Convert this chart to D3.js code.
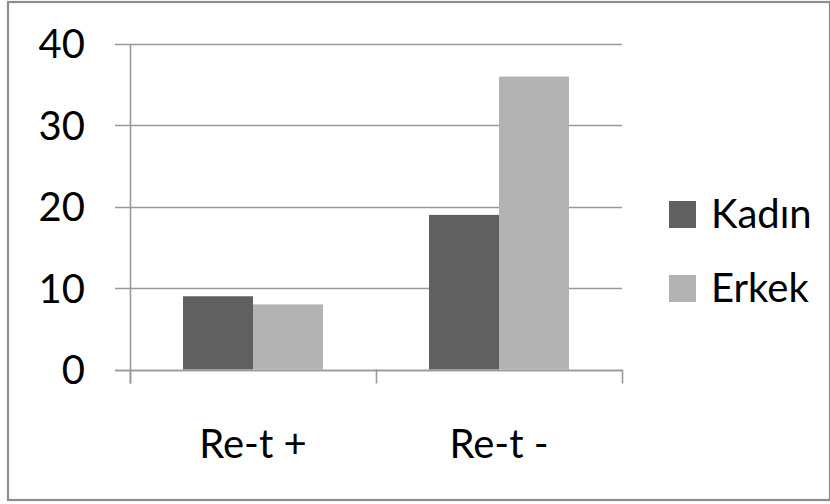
<!DOCTYPE html>
<html>
<head>
<meta charset="utf-8">
<script src="https://cdn.jsdelivr.net/npm/d3@7"></script>
<style>
  html, body { margin: 0; padding: 0; background: #fff; }
  svg { display: block; }
  text { font-family: Lato, "Noto Sans", sans-serif; fill: #000; }
</style>
</head>
<body>
<svg id="chart" width="830" height="504"></svg>
<script>
// Data
const categories = ["Re-t +", "Re-t -"];
const seriesNames = ["Kadın", "Erkek"];
const kadinValues = [9, 19];
const erkekValues = [8, 36];
const yTicks = [0, 10, 20, 30, 40];
const seriesColors = ["#606060", "#b3b3b3"];

const seriesValues = [kadinValues, erkekValues];
const rows = categories.map((c, i) => ({
  category: c,
  values: seriesNames.map((s, j) => ({ series: s, value: seriesValues[j][i], color: seriesColors[j] }))
}));

const svg = d3.select("#chart");

// Outer frame
svg.append("rect")
  .attr("x", 8).attr("y", 2)
  .attr("width", 822).attr("height", 498)
  .attr("fill", "#fff")
  .attr("stroke", "#8c8c8c")
  .attr("stroke-width", 2.2);

const plot = { left: 130, right: 622, top: 44, bottom: 369.5 };

const x0 = d3.scaleBand()
  .domain(categories)
  .range([plot.left, plot.right])
  .paddingInner(0).paddingOuter(0);

const x1 = d3.scaleBand()
  .domain(seriesNames)
  .range([0, x0.bandwidth()])
  .paddingInner(0)
  .paddingOuter(0.757);

const y = d3.scaleLinear()
  .domain([0, 40])
  .range([plot.bottom, plot.top]);

const gridColor = "#999999";

// Horizontal gridlines with short left tick marks
svg.append("g")
  .selectAll("line")
  .data(yTicks)
  .join("line")
  .attr("x1", plot.left - 15)
  .attr("x2", plot.right)
  .attr("y1", d => Math.round(y(d)) + 0.5)
  .attr("y2", d => Math.round(y(d)) + 0.5)
  .attr("stroke", gridColor)
  .attr("stroke-width", 1.6);

// Bars
const groups = svg.append("g")
  .selectAll("g")
  .data(rows)
  .join("g")
  .attr("transform", d => `translate(${x0(d.category)},0)`);

groups.selectAll("rect")
  .data(d => d.values)
  .join("rect")
  .attr("x", d => x1(d.series))
  .attr("width", x1.bandwidth())
  .attr("y", d => y(d.value))
  .attr("height", d => y(0) - y(d.value))
  .attr("fill", d => d.color);

// Y axis line
svg.append("line")
  .attr("x1", plot.left + 0.5).attr("x2", plot.left + 0.5)
  .attr("y1", plot.top).attr("y2", plot.bottom + 14)
  .attr("stroke", gridColor).attr("stroke-width", 1.6);

// X axis baseline and category separator ticks
svg.append("line")
  .attr("x1", plot.left - 15).attr("x2", plot.right)
  .attr("y1", Math.round(y(0)) + 0.5).attr("y2", Math.round(y(0)) + 0.5)
  .attr("stroke", gridColor).attr("stroke-width", 1.6);

const sepTicks = categories.map(c => x0(c)).concat([x0(categories[categories.length - 1]) + x0.bandwidth()]);
svg.append("g")
  .selectAll("line")
  .data(sepTicks)
  .join("line")
  .attr("x1", d => Math.round(d) + 0.5)
  .attr("x2", d => Math.round(d) + 0.5)
  .attr("y1", plot.bottom)
  .attr("y2", plot.bottom + 14)
  .attr("stroke", gridColor)
  .attr("stroke-width", 1.6);

// Y tick labels
svg.append("g")
  .selectAll("text")
  .data(yTicks)
  .join("text")
  .attr("x", 85)
  .attr("y", d => y(d))
  .attr("dy", "0.36em")
  .attr("text-anchor", "end")
  .style("font-size", "40px")
  .text(d => d);

// Category labels
svg.append("g")
  .selectAll("text")
  .data(categories)
  .join("text")
  .attr("x", d => x0(d) + x0.bandwidth() / 2)
  .attr("y", 458)
  .attr("text-anchor", "middle")
  .style("font-size", "40px")
  .text(d => d);

// Legend
const legend = svg.append("g")
  .selectAll("g")
  .data(seriesNames)
  .join("g")
  .attr("transform", (d, i) => `translate(669, ${201 + i * 74})`);

legend.append("rect")
  .attr("width", 27).attr("height", 27)
  .attr("fill", (d, i) => seriesColors[i]);

legend.append("text")
  .attr("x", 42)
  .attr("y", 27)
  .style("font-size", "40px")
  .text(d => d);
</script>
</body>
</html>
